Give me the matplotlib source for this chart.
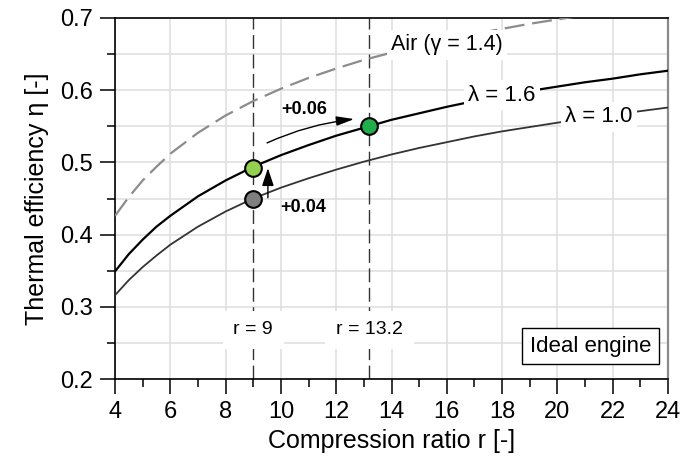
import matplotlib
matplotlib.use("Agg")
import matplotlib.pyplot as plt
from matplotlib.ticker import MultipleLocator

plt.rcParams['font.family'] = ['Liberation Sans', 'DejaVu Sans']

# ---- data ----
r_vals = [4, 4.5, 5, 5.5, 6, 7, 8, 9, 10, 11, 12, 13, 14, 15, 16, 17, 18, 19, 20, 21, 22, 23, 24]
eta_lam10 = [0.316, 0.337, 0.355, 0.371, 0.386, 0.411, 0.432, 0.450, 0.465, 0.478, 0.490, 0.501,
             0.511, 0.520, 0.528, 0.536, 0.543, 0.549, 0.555, 0.561, 0.566, 0.571, 0.576]
eta_lam16 = [0.349, 0.373, 0.393, 0.411, 0.426, 0.453, 0.475, 0.494, 0.510, 0.524, 0.537, 0.548,
             0.559, 0.568, 0.577, 0.585, 0.592, 0.599, 0.605, 0.611, 0.616, 0.622, 0.627]
r_air = [4, 4.5, 5, 5.5, 6, 7, 8, 9, 10, 11, 12, 13, 14, 15, 16, 17, 18, 19, 20, 21]
eta_air = [0.426, 0.452, 0.475, 0.494, 0.512, 0.541, 0.565, 0.585, 0.602, 0.617, 0.630, 0.642,
           0.652, 0.661, 0.670, 0.678, 0.685, 0.692, 0.698, 0.704]

r_marks = [9, 9, 13.2]
eta_marks = [0.450, 0.492, 0.550]
mark_colors = ['#7f7f7f', '#92d050', '#1fae4b']

r_ref = [9, 13.2]
r_ref_labels = ['r = 9', 'r = 13.2']

gain_lambda = '+0.04'
gain_ratio = '+0.06'

x_ticks = [4, 6, 8, 10, 12, 14, 16, 18, 20, 22, 24]
y_ticks = [0.2, 0.3, 0.4, 0.5, 0.6, 0.7]

# ---- figure ----
fig = plt.figure(figsize=(6.81, 4.63), dpi=100)
ax = fig.add_axes([115/681, 1 - 379/463, (668-115)/681, (379-18)/463])

ax.set_xlim(4, 24)
ax.set_ylim(0.2, 0.7)
ax.set_xticks(x_ticks)
ax.set_yticks(y_ticks)
ax.set_yticklabels([f'{v:.1f}' for v in y_ticks])
ax.xaxis.set_minor_locator(MultipleLocator(1))
ax.yaxis.set_minor_locator(MultipleLocator(0.05))

ax.grid(True, which='major', axis='x', color='#e0e0e0', lw=1.2, zorder=0)
ax.grid(True, which='both', axis='y', color='#e0e0e0', lw=1.2, zorder=0)
ax.set_axisbelow(True)

ax.tick_params(axis='both', which='major', direction='out', length=11, width=1.1,
               labelsize=17, pad=5, top=False, right=False)
ax.tick_params(axis='both', which='minor', direction='out', length=5.5, width=1.1,
               top=False, right=False)

for s in ['left', 'bottom', 'top']:
    ax.spines[s].set_linewidth(1.2)
    ax.spines[s].set_color('black')
ax.spines['right'].set_linewidth(1.6)
ax.spines['right'].set_color('#8a8a8a')

ax.set_xlabel('Compression ratio r [-]', fontsize=18, labelpad=4)
ax.set_ylabel('Thermal efficiency η [-]', fontsize=18, labelpad=8)

# vertical reference lines
for rr, lab in zip(r_ref, r_ref_labels):
    ax.axvline(rr, color='#333333', lw=1.0, ls=(0, (10, 4)), zorder=2)
    ax.text(rr, 0.268, lab, ha='center', va='center', fontsize=14, zorder=6,
            bbox=dict(boxstyle='square,pad=0.55', fc='white', ec='none'))

# curves
ax.plot(r_air, eta_air, color='#8c8c8c', lw=1.6, ls=(0, (9, 3.5)), zorder=3)
ax.plot(r_vals, eta_lam16, color='black', lw=1.6, zorder=3)
ax.plot(r_vals, eta_lam10, color='#333333', lw=1.3, zorder=3)

# inline labels
ax.text(16.0, 0.663, 'Air (γ = 1.4)', ha='center', va='center', fontsize=15.5, zorder=6,
        bbox=dict(boxstyle='square,pad=0.2', fc='white', ec='none'))
ax.text(18.0, 0.593, 'λ = 1.6', ha='center', va='center', fontsize=16, zorder=6,
        bbox=dict(boxstyle='square,pad=0.2', fc='white', ec='none'))
ax.text(21.5, 0.563, 'λ = 1.0', ha='center', va='center', fontsize=16, zorder=6,
        bbox=dict(boxstyle='square,pad=0.2', fc='white', ec='none'))

# arrows
ax.annotate('', xy=(9.53, 0.492), xytext=(9.53, 0.451),
            arrowprops=dict(arrowstyle='-|>,head_length=0.6,head_width=0.2',
                            color='black', lw=1.0, mutation_scale=18, shrinkA=0, shrinkB=0),
            zorder=5)
ax.annotate('', xy=(12.65, 0.560), xytext=(9.5, 0.527),
            arrowprops=dict(arrowstyle='-|>,head_length=0.6,head_width=0.16',
                            color='black', lw=1.0, mutation_scale=18, shrinkA=0, shrinkB=0,
                            connectionstyle='arc3,rad=-0.08'),
            zorder=5)
ax.text(9.97, 0.438, gain_lambda, ha='left', va='center', fontsize=13, fontweight='bold', zorder=6)
ax.text(10.03, 0.5726, gain_ratio, ha='left', va='center', fontsize=13, fontweight='bold', zorder=6)

# markers
for rm, em, c in zip(r_marks, eta_marks, mark_colors):
    ax.plot(rm, em, 'o', ms=12, mfc=c, mec='black', mew=1.5, zorder=7)

# Ideal engine box
ax.text(21.2, 0.2457, 'Ideal engine', ha='center', va='center', fontsize=16, zorder=6,
        bbox=dict(boxstyle='square,pad=0.35', fc='white', ec='black', lw=1.0))

fig.savefig('out.png', dpi=100)
